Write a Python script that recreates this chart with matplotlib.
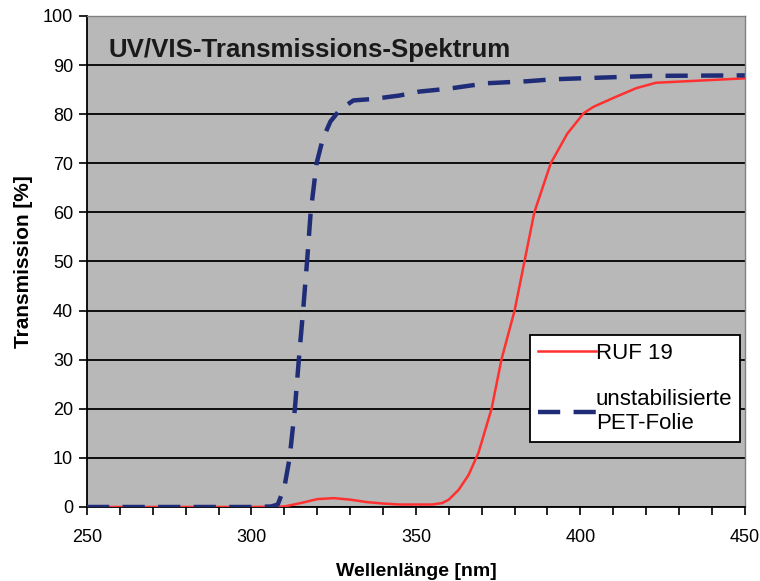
"""UV/VIS transmission spectrum: RUF 19 vs. unstabilised PET film."""

import matplotlib
matplotlib.use("Agg")
import matplotlib.pyplot as plt
from matplotlib.ticker import MultipleLocator

# values
ruf_nm = [250, 300, 310, 315, 320, 325, 330, 335, 340, 345, 350, 355, 358, 360,
          363, 366, 369, 371, 373, 376, 380, 383, 386, 391, 396, 401, 404, 410,
          417, 423, 432, 450]
ruf_trans = [0, 0, 0.1, 0.8, 1.6, 1.8, 1.5, 1.0, 0.7, 0.5, 0.5, 0.5, 0.8, 1.5,
             3.5, 6.5, 11.0, 15.5, 20.0, 30.0, 40.0, 50.0, 60.0, 70.0, 76.0, 80.2,
             81.5, 83.3, 85.3, 86.4, 86.7, 87.3]

pet_nm = [250, 300, 306, 308, 310, 311.6, 313.2, 314.4, 315.7, 316.9, 318,
          319.8, 321.7, 324, 327, 331, 337, 345, 351, 360, 371.5, 383.7, 391.6,
          400, 422, 450]
pet_trans = [0, 0, 0.1, 0.5, 4.0, 10.0, 20.0, 30.0, 40.0, 50.0, 60.0, 70.0,
             75.0, 78.5, 81.0, 82.8, 83.1, 83.8, 84.6, 85.2, 86.3, 86.7, 87.1,
             87.3, 87.8, 87.9]

plt.rcParams["font.family"] = ["Liberation Sans", "DejaVu Sans"]

fig = plt.figure(figsize=(7.6, 5.81), dpi=100)
ax = fig.add_axes([0.1145, 0.1274, 0.8655, 0.8451])
ax.set_facecolor("#b8b8b8")

ax.plot(ruf_nm, ruf_trans, color="#ff3030", lw=1.8, label="RUF 19", zorder=3)
ax.plot(pet_nm, pet_trans, color="#1f2d78", lw=3.2, dashes=(5, 3),
        label="unstabilisierte\nPET-Folie", zorder=4)

ax.set_xlim(250, 450)
ax.set_ylim(0, 100)
ax.xaxis.set_major_locator(MultipleLocator(50))
ax.xaxis.set_minor_locator(MultipleLocator(10))
ax.yaxis.set_major_locator(MultipleLocator(10))
ax.grid(axis="y", color="black", lw=1.3, zorder=1)
ax.set_axisbelow(True)

ax.tick_params(axis="both", which="both", direction="out", color="black",
               labelsize=13, width=1.2)
ax.tick_params(axis="x", which="major", length=6, pad=10)
ax.tick_params(axis="x", which="minor", length=6)
ax.tick_params(axis="y", length=6, pad=4)

for side in ("left", "bottom"):
    ax.spines[side].set_color("black")
    ax.spines[side].set_linewidth(1.3)
for side in ("top", "right"):
    ax.spines[side].set_color("#808080")
    ax.spines[side].set_linewidth(1.0)

ax.set_xlabel("Wellenlänge [nm]", fontsize=14, fontweight="bold", labelpad=12)
ax.set_ylabel("Transmission [%]", fontsize=15, fontweight="bold", labelpad=7)

ax.text(0.032, 0.955, "UV/VIS-Transmissions-Spektrum", transform=ax.transAxes,
        fontsize=18.6, fontweight="bold", color="#1a1a1a", va="top", ha="left")

leg = ax.legend(loc="lower right", bbox_to_anchor=(0.993, 0.133), fontsize=16,
                frameon=True, fancybox=False, edgecolor="black", framealpha=1,
                handlelength=2.6, handletextpad=0.0, labelspacing=1.1,
                borderpad=0.35, borderaxespad=0)
leg.get_frame().set_linewidth(1.3)

fig.savefig("out.png", dpi=100)
